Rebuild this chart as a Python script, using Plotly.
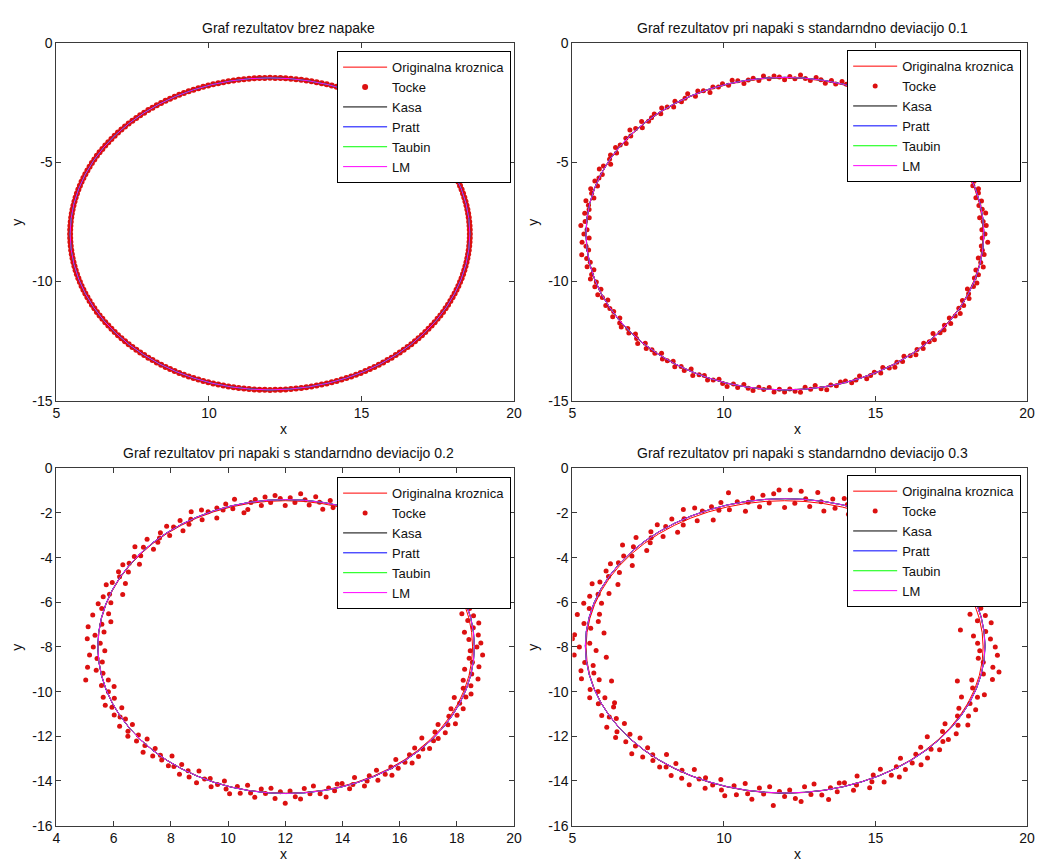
import numpy as np
import plotly.graph_objects as go

# ---------------- data ----------------
ANGLES_DEG = [
    0, 1.5, 3, 4.5, 6, 7.5, 9, 10.5, 12, 13.5, 15, 16.5,
    18, 19.5, 21, 22.5, 24, 25.5, 27, 28.5, 30, 31.5, 33, 34.5,
    36, 37.5, 39, 40.5, 42, 43.5, 45, 46.5, 48, 49.5, 51, 52.5,
    54, 55.5, 57, 58.5, 60, 61.5, 63, 64.5, 66, 67.5, 69, 70.5,
    72, 73.5, 75, 76.5, 78, 79.5, 81, 82.5, 84, 85.5, 87, 88.5,
    90, 91.5, 93, 94.5, 96, 97.5, 99, 100.5, 102, 103.5, 105, 106.5,
    108, 109.5, 111, 112.5, 114, 115.5, 117, 118.5, 120, 121.5, 123, 124.5,
    126, 127.5, 129, 130.5, 132, 133.5, 135, 136.5, 138, 139.5, 141, 142.5,
    144, 145.5, 147, 148.5, 150, 151.5, 153, 154.5, 156, 157.5, 159, 160.5,
    162, 163.5, 165, 166.5, 168, 169.5, 171, 172.5, 174, 175.5, 177, 178.5,
    180, 181.5, 183, 184.5, 186, 187.5, 189, 190.5, 192, 193.5, 195, 196.5,
    198, 199.5, 201, 202.5, 204, 205.5, 207, 208.5, 210, 211.5, 213, 214.5,
    216, 217.5, 219, 220.5, 222, 223.5, 225, 226.5, 228, 229.5, 231, 232.5,
    234, 235.5, 237, 238.5, 240, 241.5, 243, 244.5, 246, 247.5, 249, 250.5,
    252, 253.5, 255, 256.5, 258, 259.5, 261, 262.5, 264, 265.5, 267, 268.5,
    270, 271.5, 273, 274.5, 276, 277.5, 279, 280.5, 282, 283.5, 285, 286.5,
    288, 289.5, 291, 292.5, 294, 295.5, 297, 298.5, 300, 301.5, 303, 304.5,
    306, 307.5, 309, 310.5, 312, 313.5, 315, 316.5, 318, 319.5, 321, 322.5,
    324, 325.5, 327, 328.5, 330, 331.5, 333, 334.5, 336, 337.5, 339, 340.5,
    342, 343.5, 345, 346.5, 348, 349.5, 351, 352.5, 354, 355.5, 357, 358.5,
]

# original circle (centre x, centre y, radius)
ORIG_CX = 12.0
ORIG_CY = -8.0
ORIG_R = 6.55

# radial deviation of every point from the original circle, in hundredths
OFFSETS_00 = [0] * 240
OFFSETS_01 = [
    6, -4, 11, 2, -8, 14, 5, -3, 9, -6, 7, 12,
    -2, 8, -10, 4, 13, -5, 1, 9, -7, 3, -12, 6,
    10, -3, 5, -9, 2, 12, -6, 8, -1, 4, -11, 7,
    3, -7, 9, -2, 6, -10, 11, 0, -5, 8, 2, -8,
    5, 12, -4, 7, -9, 3, 10, -6, 1, 14, -3, 6,
    -8, 4, 9, -2, 11, -5, 7, 2, -10, 6, 13, -4,
    8, -1, 5, -12, 3, 10, -7, 15, 2, -4, 9, -9,
    4, 11, -6, 7, 1, -3, 12, -8, 6, 16, -2, 5,
    -9, 3, 10, -5, 8, 2, -11, 7, 14, -4, 1, 9,
    -6, 12, 4, -8, 15, 3, -2, 10, -7, 5, 18, -3,
    7, -10, 14, 2, -5, 20, 6, -3, 11, -8, 4, 13,
    -2, 9, -6, 12, 3, -9, 7, 1, -4, 10, -7, 5,
    11, -3, 6, -8, 2, 13, -5, 8, -1, 4, -10, 7,
    3, -6, 10, -2, 7, -9, 12, 0, -4, 9, 2, -7,
    6, 13, -3, 8, -9, 4, 11, -5, 2, -8, 10, -2,
    9, -4, 7, 12, -7, 3, -10, 6, 14, -2, 5, -6,
    -5, 8, 2, -9, 11, 4, -3, 10, -7, 6, 13, -1,
    7, -8, 4, 12, -2, 9, -6, 3, 10, -11, 5, 8,
    -3, 10, -7, 5, 14, -1, 8, -5, 11, 2, -9, 6,
    12, -2, 7, -6, 15, 3, -8, 9, 1, -4, 16, -3,
]
OFFSETS_02 = [
    15, 29, -12, 22, -25, 8, 30, -6, 18, -20, 12, 26,
    -10, 20, -28, 5, 24, -15, 10, 32, -8, 16, -22, 3,
    21, -14, 8, -30, 12, 27, -5, 18, -18, 9, -26, 14,
    6, -20, 25, -4, 15, -28, 22, 2, -12, 30, 7, -17,
    11, 28, -9, 19, -24, 4, 26, -14, 8, 33, -7, 13,
    -22, 10, 24, -6, 20, -16, 14, 3, -26, -37, 30, -10,
    18, -4, 12, -30, 8, 25, -15, 34, 5, -11, 20, -24,
    9, 26, -13, 17, 2, -8, 28, -20, 12, 36, -5, 10,
    -25, 7, 22, -12, 18, 4, -28, 15, 30, -40, 3, 20,
    -14, 27, 9, -20, 33, -35, -6, 40, -18, 12, 38, -8,
    16, -24, 30, 5, -12, 42, 14, -7, 58, -19, 10, -31,
    -5, 20, -15, 26, 8, -22, 16, 2, -10, 24, -18, 12,
    25, -8, 14, -20, 5, 30, -12, 18, -3, 10, -26, 16,
    7, -16, 24, -5, 17, -23, 28, 0, -10, 22, 5, -18,
    14, 30, -8, 19, -22, 10, 26, -13, 5, -20, 24, -6,
    45, -10, 17, 28, -18, 8, -25, 14, 32, -5, 12, -15,
    -12, 19, 5, -22, 26, 10, -8, 24, -17, 14, 30, -3,
    17, -20, 10, 28, -6, 22, -15, 8, 24, -27, 12, 19,
    -8, 24, -18, 12, 32, -4, 19, -13, 26, 5, -22, 15,
    28, -6, 17, -15, 34, 8, -20, 28, 3, -10, 36, -8,
]
OFFSETS_03 = [
    40, -18, 25, -30, 12, -70, 35, -8, 22, -26, 15, 38,
    -14, 28, -35, 8, 32, -22, 14, 42, -10, 24, -30, 5,
    30, -20, 12, -40, 18, 36, -8, 26, -25, 14, -34, 20,
    8, -28, 34, -6, 22, -38, 30, 3, -16, 40, 10, -24,
    16, 38, -12, 26, -32, 6, 45, -20, 12, 44, -10, 48,
    -30, 48, 32, -8, 28, -22, 20, 4, -34, 14, 60, -14,
    25, -6, 18, -40, 12, 34, -20, 45, 8, -15, 28, -32,
    12, 35, -18, 24, 3, -11, 38, -28, 16, 48, -7, 14,
    -34, 10, 30, -16, 25, 6, -38, 20, 40, -28, 4, 27,
    -20, 36, 12, -27, 44, -30, 15, -10, -56, 40, 46, -12,
    22, -33, 40, -65, 8, -18, 25, -15, 30, -26, -64, 14,
    -8, 27, -20, 10, -41, -30, 22, 3, -14, 33, -25, 16,
    34, -12, 19, -28, 7, 40, -16, 25, -5, 14, -36, 22,
    10, -22, 32, -7, 24, -31, 38, 0, -14, 30, 7, -25,
    19, 40, -11, 26, -30, 14, 35, -18, 7, -27, 56, -8,
    15, -14, 24, 39, -25, 11, -34, 19, 43, -7, 16, -20,
    -16, 26, 7, -30, 35, 14, -11, 33, -23, 19, 40, -4,
    23, -27, 14, 38, -8, 30, -20, 11, 33, -36, 17, 26,
    -11, 32, -24, 16, 43, -6, 26, -18, 35, 7, -30, 20,
    38, -8, -65, -20, 46, 12, 61, 38, 4, -14, 48, -11,
]

# fitted circles per panel: Kasa, Pratt, Taubin, LM  -> (cx, cy, r)
FIT_NAMES = ["Kasa", "Pratt", "Taubin", "LM"]
FITS_00 = [(12.00, -8.00, 6.55), (12.00, -8.00, 6.55), (12.00, -8.00, 6.55), (12.00, -8.00, 6.55)]
FITS_01 = [(12.01, -7.99, 6.56), (12.01, -7.99, 6.565), (12.01, -7.99, 6.56), (12.01, -7.99, 6.56)]
FITS_02 = [(12.03, -7.98, 6.58), (12.03, -7.98, 6.585), (12.03, -7.98, 6.58), (12.03, -7.98, 6.58)]
FITS_03 = [(12.02, -7.95, 6.59), (12.02, -7.95, 6.595), (12.02, -7.95, 6.59), (12.02, -7.95, 6.59)]

TITLES = [
    "Graf rezultatov brez napake",
    "Graf rezultatov pri napaki s standarndno deviacijo 0.1",
    "Graf rezultatov pri napaki s standarndno deviacijo 0.2",
    "Graf rezultatov pri napaki s standarndno deviacijo 0.3",
]
ORIG_NAME = "Originalna kroznica"
POINTS_NAME = "Tocke"

X_TICKS_A = [5, 10, 15, 20]
X_TICKS_B = [4, 6, 8, 10, 12, 14, 16, 18, 20]
Y_TICKS_A = [0, -5, -10, -15]
Y_TICKS_B = [0, -2, -4, -6, -8, -10, -12, -14, -16]
X_RANGE_A = [5, 20]
X_RANGE_B = [4, 20]
Y_RANGE_A = [-15, 0]
Y_RANGE_B = [-16, 0]

# ---------------- styling ----------------
W, H = 1044, 866
FONT = "Liberation Sans, Arial, sans-serif"
AXIS_COL = "#3a3a3a"
TXT_COL = "#111111"
COL_ORIG = "#ff0000"
COL_PTS = "#dc1010"
FIT_COLORS = ["#000000", "#0000ff", "#00ff00", "#ff00ff"]

# pixel boxes of the four axes (left, right, top, bottom)
BOXES = [
    (53, 516, 36, 400),
    (575, 1035, 36, 400),
    (53, 516, 469, 833),
    (575, 1035, 469, 833),
]
LEGEND_POS = [(513, 44), (1029, 43), (513, 478), (1029, 476)]
MARKER_SIZES = [6, 5, 5, 5]


def fx(px):
    return px / W


def fy(py):
    return 1 - py / H


panels = [
    dict(off=OFFSETS_00, fits=FITS_00, xt=X_TICKS_A, yt=Y_TICKS_A, xr=X_RANGE_A, yr=Y_RANGE_A),
    dict(off=OFFSETS_01, fits=FITS_01, xt=X_TICKS_A, yt=Y_TICKS_A, xr=X_RANGE_A, yr=Y_RANGE_A),
    dict(off=OFFSETS_02, fits=FITS_02, xt=X_TICKS_B, yt=Y_TICKS_B, xr=X_RANGE_B, yr=Y_RANGE_B),
    dict(off=OFFSETS_03, fits=FITS_03, xt=X_TICKS_A, yt=Y_TICKS_B, xr=X_RANGE_A, yr=Y_RANGE_B),
]

fig = go.Figure()
shapes = []
annotations = []
layout_extra = {}

theta = np.deg2rad(np.array(ANGLES_DEG, dtype=float))

for i, p in enumerate(panels):
    n = i + 1
    xa = "x" if n == 1 else f"x{n}"
    ya = "y" if n == 1 else f"y{n}"
    lg = "legend" if n == 1 else f"legend{n}"

    rr = ORIG_R + np.array(p["off"], dtype=float) / 100.0
    px = ORIG_CX + rr * np.cos(theta)
    py = ORIG_CY + rr * np.sin(theta)

    fig.add_trace(go.Scatter(x=[None], y=[None], mode="lines", name=ORIG_NAME,
                             line=dict(color=COL_ORIG, width=1),
                             xaxis=xa, yaxis=ya, legend=lg, hoverinfo="skip"))
    fig.add_trace(go.Scatter(x=px, y=py, mode="markers", name=POINTS_NAME,
                             marker=dict(color=COL_PTS, size=MARKER_SIZES[i], symbol="circle"),
                             xaxis=xa, yaxis=ya, legend=lg))
    for name, col in zip(FIT_NAMES, FIT_COLORS):
        fig.add_trace(go.Scatter(x=[None], y=[None], mode="lines", name=name,
                                 line=dict(color=col, width=1),
                                 xaxis=xa, yaxis=ya, legend=lg, hoverinfo="skip"))

    shapes.append(dict(type="circle", xref=xa, yref=ya,
                       x0=ORIG_CX - ORIG_R, x1=ORIG_CX + ORIG_R,
                       y0=ORIG_CY - ORIG_R, y1=ORIG_CY + ORIG_R,
                       line=dict(color=COL_ORIG, width=1), layer="below"))
    for (cx, cy, r), col in zip(p["fits"], FIT_COLORS):
        shapes.append(dict(type="circle", xref=xa, yref=ya,
                           x0=cx - r, x1=cx + r, y0=cy - r, y1=cy + r,
                           line=dict(color=col, width=1), layer="above"))

    l, rgt, t, b = BOXES[i]
    xkey = "xaxis" if n == 1 else f"xaxis{n}"
    ykey = "yaxis" if n == 1 else f"yaxis{n}"
    common = dict(showline=True, linecolor=AXIS_COL, linewidth=1, mirror="ticks",
                  ticks="inside", ticklen=5, tickcolor=AXIS_COL, tickwidth=1,
                  showgrid=False, zeroline=False,
                  tickfont=dict(family=FONT, size=14, color=TXT_COL))
    layout_extra[xkey] = dict(common, domain=[fx(l), fx(rgt)], anchor=ya, range=p["xr"],
                              tickmode="array", tickvals=p["xt"],
                              ticktext=[str(v) for v in p["xt"]])
    layout_extra[ykey] = dict(common, domain=[fy(b), fy(t)], anchor=xa, range=p["yr"],
                              tickmode="array", tickvals=p["yt"],
                              ticktext=[str(v) for v in p["yt"]])

    lx, ly = LEGEND_POS[i]
    layout_extra[lg] = dict(x=fx(lx), y=fy(ly), xanchor="right", yanchor="top",
                            xref="paper", yref="paper", itemwidth=44,
                            bgcolor="white", bordercolor="#000000", borderwidth=1,
                            font=dict(family=FONT, size=13, color=TXT_COL),
                            traceorder="normal")

    cxp = (l + rgt) / 2
    annotations.append(dict(text=TITLES[i], x=fx(cxp + 3), y=fy(t - 15.5),
                            xref="paper", yref="paper", showarrow=False,
                            xanchor="center", yanchor="middle",
                            font=dict(family=FONT, size=14, color=TXT_COL)))
    annotations.append(dict(text="x", x=fx(cxp - 2), y=fy(b + 29),
                            xref="paper", yref="paper", showarrow=False,
                            xanchor="center", yanchor="middle",
                            font=dict(family=FONT, size=14, color=TXT_COL)))
    annotations.append(dict(text="y", x=fx(l - 40), y=fy((t + b) / 2),
                            xref="paper", yref="paper", showarrow=False, textangle=-90,
                            xanchor="center", yanchor="middle",
                            font=dict(family=FONT, size=14, color=TXT_COL)))

fig.update_layout(
    width=W, height=H,
    margin=dict(l=0, r=0, t=0, b=0),
    paper_bgcolor="white", plot_bgcolor="white",
    shapes=shapes, annotations=annotations,
    font=dict(family=FONT, size=14, color=TXT_COL),
    showlegend=True,
    **layout_extra,
)

fig.write_html("out.html", config={"displayModeBar": False},
               post_script="document.body.style.margin='0';")
